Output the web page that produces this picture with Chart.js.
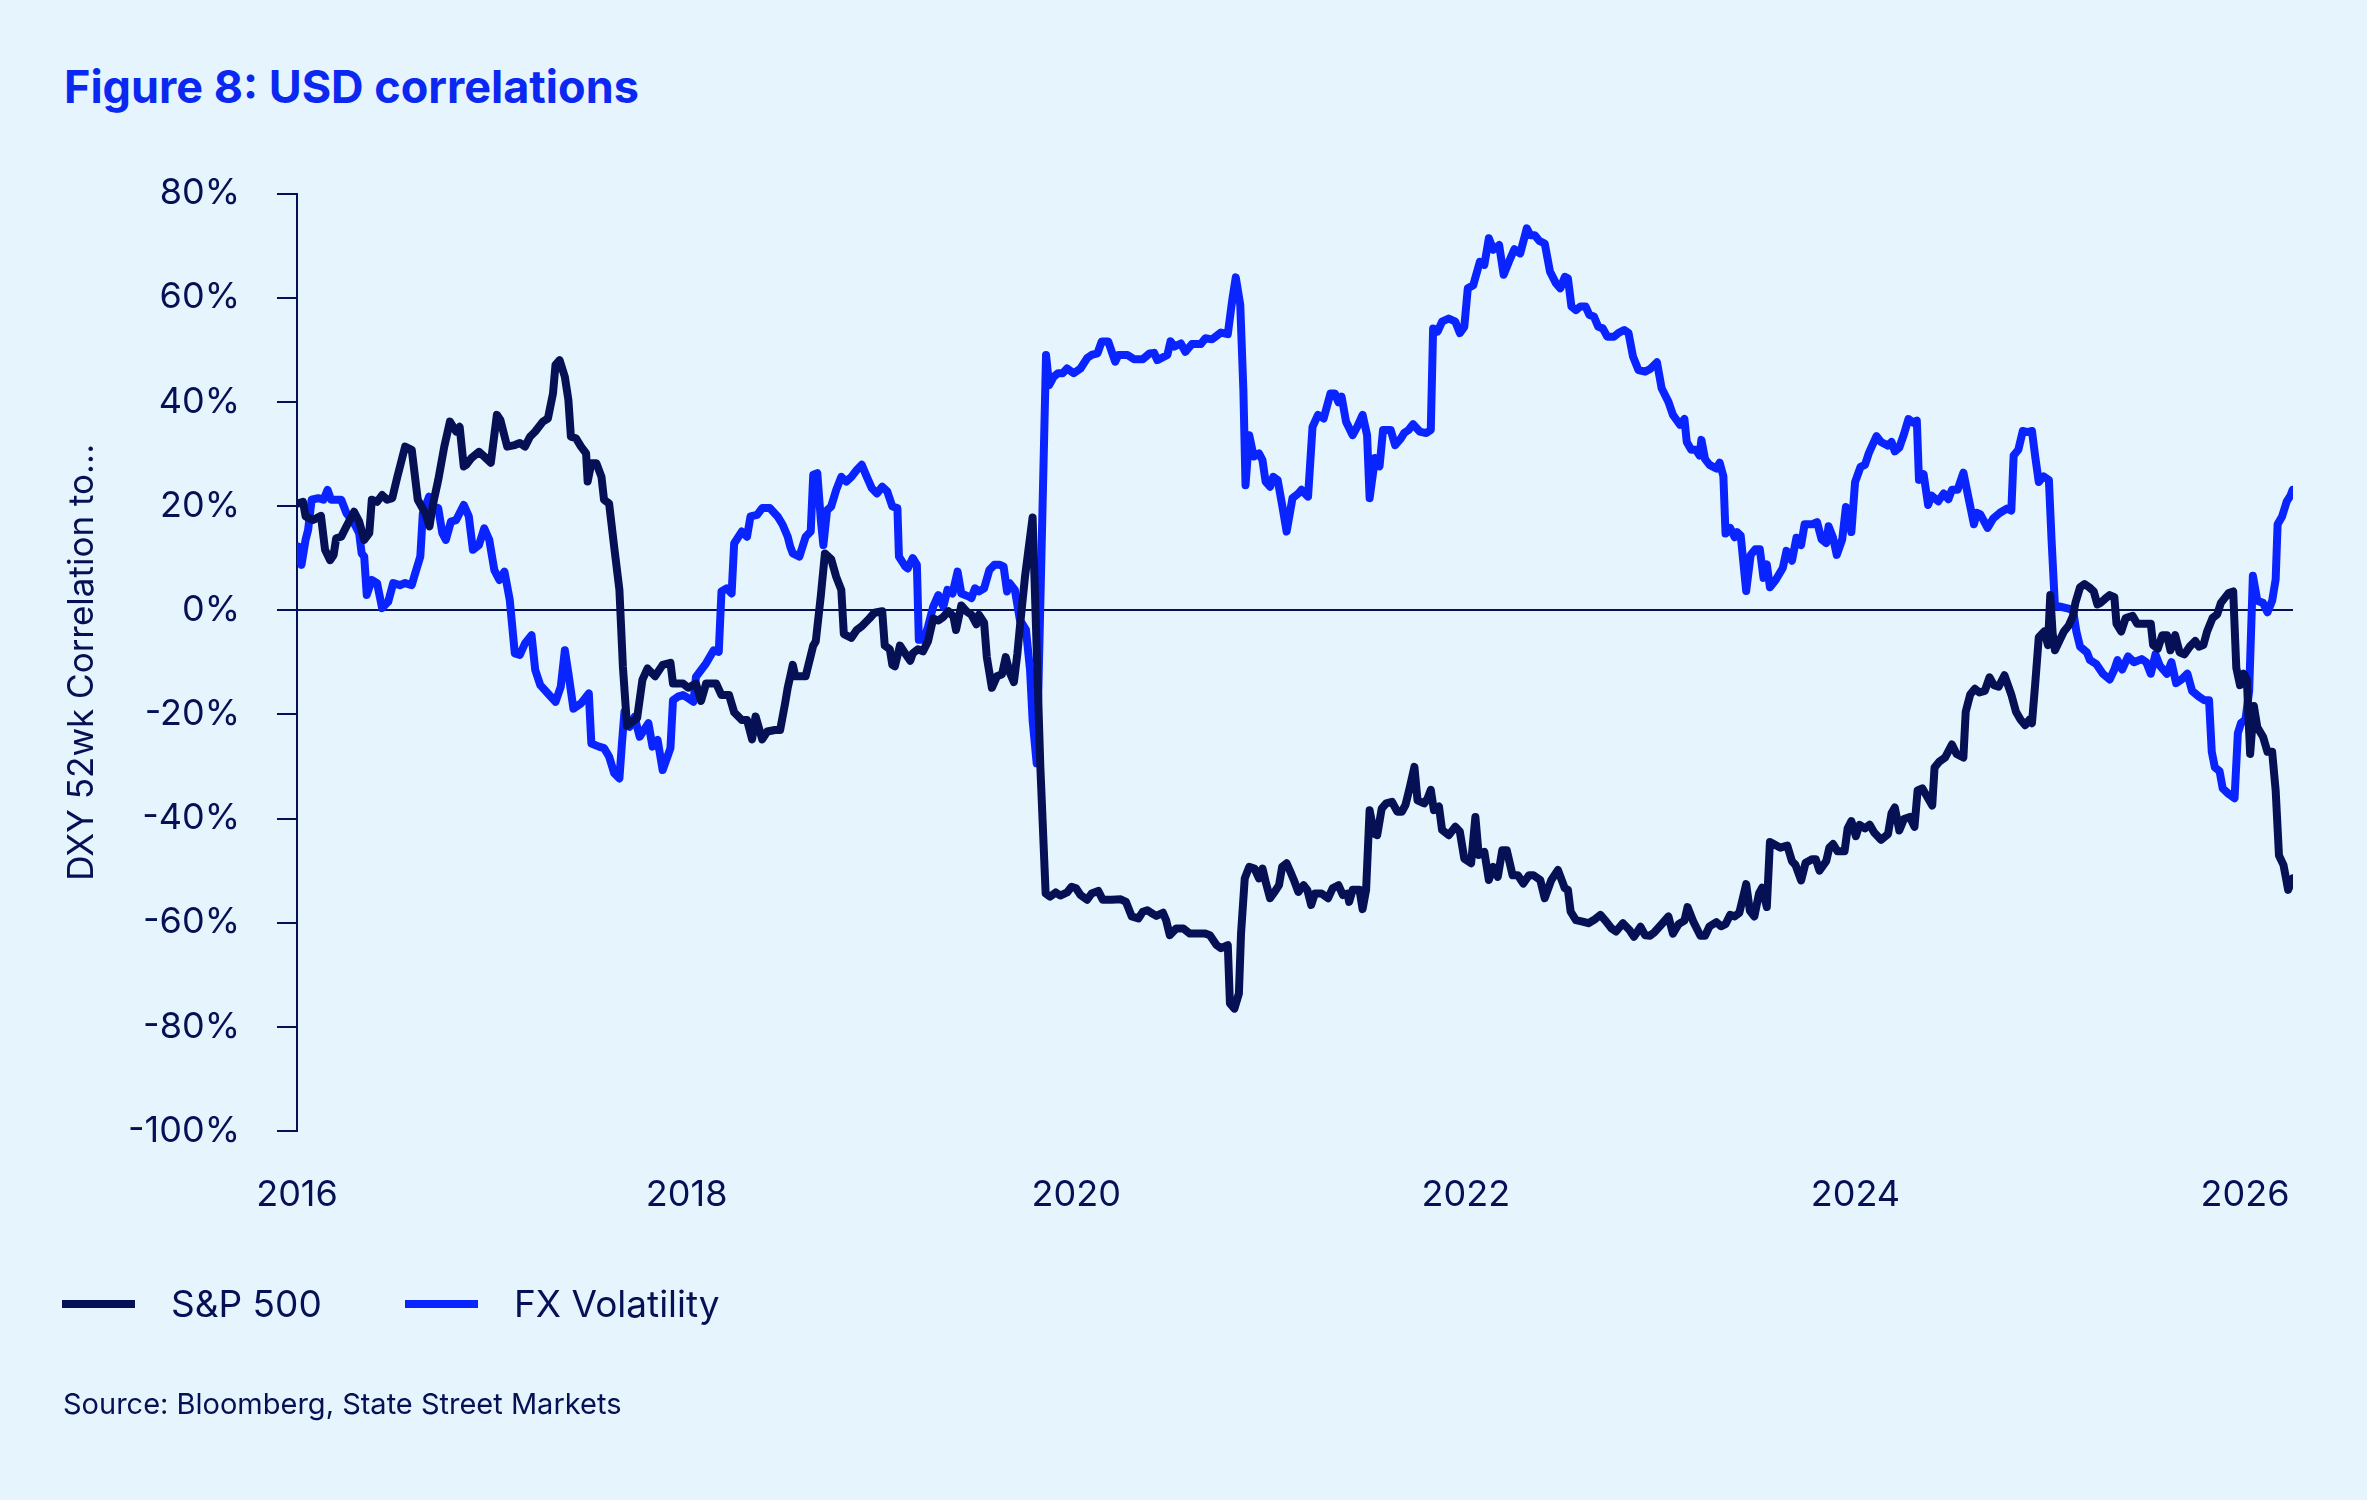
<!DOCTYPE html>
<html>
<head>
<meta charset="utf-8">
<script src="https://cdn.jsdelivr.net/npm/chart.js@4.4.1/dist/chart.umd.min.js"></script>
<style>
  html, body { margin: 0; padding: 0; background: #E6F4FE; }
  body { width: 2367px; height: 1500px; position: relative; overflow: hidden; font-family: Inter, 'Noto Sans', sans-serif; color: #061155; }
  #chart { position: absolute; left: 0; top: 0; }
  .title { position: absolute; left: 64px; top: 64px; font-size: 45px; line-height: 45px; font-weight: 700; color: #0A28F0; white-space: nowrap; }
  .leg-line { position: absolute; top: 1300px; width: 73px; height: 8px; }
  .leg-text { position: absolute; top: 1285px; font-size: 37px; line-height: 37px; white-space: nowrap; }
  .source { position: absolute; left: 63px; top: 1389px; font-size: 29px; line-height: 29px; white-space: nowrap; }
</style>
</head>
<body>
<div class="title">Figure 8: USD correlations</div>
<canvas id="chart" width="2367" height="1500"></canvas>
<div class="leg-line" style="left:62px;background:#061155"></div>
<div class="leg-text" style="left:171px">S&amp;P 500</div>
<div class="leg-line" style="left:405px;background:#0A24FF"></div>
<div class="leg-text" style="left:514px">FX Volatility</div>
<div class="source">Source: Bloomberg, State Street Markets</div>
<script>
const NAVY = '#061155';
const BLUE = '#0A24FF';

const xTicks = [2016, 2018, 2020, 2022, 2024, 2026];
const yTicks = [-100, -80, -60, -40, -20, 0, 20, 40, 60, 80];

// S&P 500 correlation (decimal year, %)
const spDates = [
  2016.005, 2016.031, 2016.044, 2016.083, 2016.123, 2016.144, 2016.170, 2016.188, 2016.201, 2016.227,
  2016.254, 2016.293, 2016.319, 2016.345, 2016.371, 2016.384, 2016.411, 2016.437, 2016.463, 2016.489,
  2016.515, 2016.555, 2016.589, 2016.620, 2016.659, 2016.680, 2016.699, 2016.725, 2016.756, 2016.785,
  2016.817, 2016.835, 2016.856, 2016.869, 2016.895, 2016.934, 2016.961, 2016.995, 2017.026, 2017.044,
  2017.079, 2017.118, 2017.144, 2017.170, 2017.196, 2017.223, 2017.262, 2017.288, 2017.314, 2017.327,
  2017.348, 2017.375, 2017.393, 2017.406, 2017.432, 2017.458, 2017.484, 2017.492, 2017.511, 2017.537,
  2017.563, 2017.576, 2017.602, 2017.628, 2017.655, 2017.673, 2017.694, 2017.746, 2017.773, 2017.799,
  2017.838, 2017.877, 2017.917, 2017.930, 2017.982, 2018.008, 2018.048, 2018.074, 2018.100, 2018.152,
  2018.179, 2018.218, 2018.244, 2018.283, 2018.310, 2018.336, 2018.354, 2018.388, 2018.414, 2018.454,
  2018.480, 2018.506, 2018.519, 2018.545, 2018.558, 2018.611, 2018.650, 2018.663, 2018.689, 2018.710,
  2018.742, 2018.768, 2018.794, 2018.807, 2018.846, 2018.873, 2018.899, 2018.938, 2018.964, 2019.004,
  2019.017, 2019.043, 2019.056, 2019.069, 2019.095, 2019.122, 2019.148, 2019.161, 2019.187, 2019.213,
  2019.239, 2019.266, 2019.292, 2019.318, 2019.344, 2019.370, 2019.383, 2019.410, 2019.436, 2019.462,
  2019.488, 2019.501, 2019.527, 2019.541, 2019.567, 2019.593, 2019.619, 2019.638, 2019.658, 2019.680,
  2019.698, 2019.711, 2019.737, 2019.776, 2019.816, 2019.843, 2019.866, 2019.895, 2019.918, 2019.953,
  2019.976, 2019.999, 2020.022, 2020.056, 2020.079, 2020.113, 2020.136, 2020.182, 2020.228, 2020.255,
  2020.285, 2020.319, 2020.342, 2020.365, 2020.388, 2020.411, 2020.445, 2020.461, 2020.480, 2020.514,
  2020.549, 2020.583, 2020.617, 2020.663, 2020.686, 2020.720, 2020.743, 2020.778, 2020.789, 2020.812,
  2020.835, 2020.846, 2020.865, 2020.888, 2020.915, 2020.938, 2020.956, 2020.972, 2020.995, 2021.018,
  2021.041, 2021.057, 2021.080, 2021.099, 2021.117, 2021.140, 2021.167, 2021.186, 2021.206, 2021.225,
  2021.259, 2021.293, 2021.316, 2021.346, 2021.369, 2021.392, 2021.401, 2021.419, 2021.454, 2021.470,
  2021.488, 2021.506, 2021.529, 2021.545, 2021.568, 2021.591, 2021.621, 2021.648, 2021.671, 2021.690,
  2021.713, 2021.736, 2021.752, 2021.786, 2021.804, 2021.820, 2021.836, 2021.862, 2021.878, 2021.912,
  2021.946, 2021.969, 2021.992, 2022.027, 2022.049, 2022.066, 2022.095, 2022.118, 2022.141, 2022.164,
  2022.187, 2022.210, 2022.240, 2022.267, 2022.295, 2022.324, 2022.347, 2022.382, 2022.405, 2022.439,
  2022.473, 2022.508, 2022.524, 2022.538, 2022.565, 2022.599, 2022.629, 2022.657, 2022.691, 2022.714,
  2022.748, 2022.771, 2022.806, 2022.840, 2022.863, 2022.897, 2022.920, 2022.946, 2022.969, 2023.005,
  2023.040, 2023.063, 2023.092, 2023.122, 2023.138, 2023.169, 2023.204, 2023.228, 2023.251, 2023.286,
  2023.310, 2023.333, 2023.357, 2023.380, 2023.404, 2023.439, 2023.458, 2023.481, 2023.505, 2023.521,
  2023.545, 2023.561, 2023.580, 2023.615, 2023.650, 2023.674, 2023.692, 2023.721, 2023.744, 2023.779,
  2023.796, 2023.815, 2023.850, 2023.866, 2023.885, 2023.908, 2023.944, 2023.960, 2023.979, 2024.002,
  2024.021, 2024.049, 2024.073, 2024.096, 2024.131, 2024.167, 2024.185, 2024.202, 2024.225, 2024.249,
  2024.279, 2024.303, 2024.319, 2024.343, 2024.366, 2024.394, 2024.406, 2024.430, 2024.460, 2024.495,
  2024.519, 2024.554, 2024.566, 2024.589, 2024.613, 2024.636, 2024.664, 2024.688, 2024.711, 2024.735,
  2024.765, 2024.800, 2024.824, 2024.847, 2024.871, 2024.894, 2024.906, 2024.923, 2024.941, 2024.969,
  2024.988, 2025.000, 2025.012, 2025.024, 2025.047, 2025.070, 2025.094, 2025.117, 2025.129, 2025.153,
  2025.176, 2025.200, 2025.223, 2025.242, 2025.258, 2025.282, 2025.305, 2025.329, 2025.340, 2025.364,
  2025.387, 2025.423, 2025.446, 2025.481, 2025.516, 2025.528, 2025.552, 2025.575, 2025.599, 2025.617,
  2025.641, 2025.664, 2025.688, 2025.716, 2025.744, 2025.763, 2025.786, 2025.805, 2025.833, 2025.857,
  2025.876, 2025.899, 2025.916, 2025.939, 2025.955, 2025.974, 2025.993, 2026.009, 2026.026, 2026.045,
  2026.063, 2026.092, 2026.115, 2026.139, 2026.157, 2026.174, 2026.197, 2026.221, 2026.244
];
const spValues = [
  20.5, 20.8, 18.0, 17.3, 18.1, 11.6, 9.6, 10.6, 13.8, 14.1,
  16.1, 18.9, 17.0, 13.5, 14.8, 21.2, 20.8, 22.1, 21.2, 21.5,
  25.6, 31.4, 30.8, 21.2, 18.6, 16.1, 20.5, 25.0, 31.4, 36.2,
  34.3, 35.2, 27.6, 27.9, 29.2, 30.4, 29.5, 28.3, 37.5, 36.5,
  31.4, 31.7, 32.1, 31.4, 33.3, 34.3, 36.2, 36.8, 41.6, 47.1,
  48.0, 44.8, 40.4, 33.3, 33.0, 31.4, 30.1, 24.7, 28.2, 28.2,
  25.6, 21.2, 20.5, 12.2, 3.9, -10.9, -22.2, -20.7, -13.4, -11.2,
  -12.7, -10.5, -10.1, -14.1, -14.1, -14.9, -14.1, -17.4, -14.1, -14.1,
  -16.3, -16.3, -19.6, -21.1, -21.1, -24.8, -20.4, -24.8, -23.3, -23.0,
  -23.0, -17.8, -14.9, -10.5, -12.7, -12.7, -6.8, -6.0, 2.8, 10.9,
  9.8, 6.4, 3.9, -4.6, -5.3, -3.8, -3.1, -1.6, -0.5, -0.2,
  -6.8, -7.5, -10.5, -10.8, -6.8, -8.3, -9.7, -8.3, -7.5, -7.9,
  -6.0, -1.6, -2.0, -1.3, -0.2, -1.3, -3.8, 0.9, -0.2, -0.9,
  -2.7, -0.9, -2.4, -9.0, -14.9, -12.7, -12.3, -9.0, -11.9, -13.8,
  -8.3, -3.1, 6.4, 17.8, -30.3, -54.4, -55.0, -54.2, -54.8, -54.2,
  -53.1, -53.4, -54.7, -55.6, -54.4, -53.9, -55.6, -55.6, -55.5, -56.0,
  -58.8, -59.2, -57.9, -57.6, -58.2, -58.7, -58.1, -59.5, -62.4, -61.1,
  -61.1, -62.1, -62.1, -62.1, -62.4, -64.3, -64.9, -64.3, -75.5, -76.5,
  -73.6, -62.1, -51.5, -49.3, -49.6, -51.5, -49.6, -52.1, -55.3, -54.1,
  -52.8, -49.3, -48.6, -50.2, -51.8, -54.1, -52.8, -53.7, -56.6, -54.4,
  -54.4, -55.3, -53.4, -52.8, -54.7, -54.4, -56.0, -53.7, -53.7, -57.4,
  -53.7, -38.4, -42.9, -43.2, -38.1, -37.1, -36.8, -38.7, -38.7, -37.4,
  -33.9, -30.1, -36.5, -37.1, -36.1, -34.5, -38.4, -37.7, -42.2, -43.2,
  -41.6, -42.5, -47.7, -48.6, -39.7, -47.0, -46.4, -51.8, -49.3, -51.2,
  -46.1, -46.1, -50.9, -50.9, -52.5, -50.9, -50.9, -51.8, -55.3, -51.8,
  -49.9, -53.4, -53.7, -57.9, -59.5, -59.8, -60.1, -59.5, -58.5, -59.5,
  -61.1, -61.7, -60.1, -61.4, -62.7, -60.8, -62.4, -62.5, -61.8, -60.3,
  -58.8, -62.1, -60.3, -59.6, -57.0, -59.9, -62.5, -62.5, -60.7, -59.9,
  -60.7, -60.3, -58.5, -58.8, -58.1, -52.6, -57.7, -58.8, -54.4, -53.3,
  -57.0, -44.5, -44.9, -45.6, -45.2, -48.2, -48.9, -51.9, -48.5, -47.8,
  -47.8, -50.0, -48.2, -45.6, -44.9, -46.3, -46.3, -41.9, -40.5, -43.4,
  -41.2, -41.9, -41.2, -42.7, -44.1, -43.0, -39.0, -37.9, -42.3, -40.1,
  -39.7, -41.6, -34.6, -34.2, -35.7, -37.5, -30.2, -29.1, -28.3, -25.8,
  -27.6, -28.3, -19.5, -16.2, -15.1, -15.8, -15.5, -12.9, -14.4, -14.7,
  -12.5, -16.2, -19.5, -21.0, -22.1, -21.0, -21.7, -14.0, -5.2, -4.1,
  -6.7, 2.9, -4.4, -7.7, -5.9, -4.1, -3.0, -1.1, 1.4, 4.4,
  5.0, 4.4, 3.6, 1.1, 1.4, 2.2, 2.9, 2.5, -2.6, -4.1,
  -1.5, -1.1, -2.6, -2.6, -2.6, -6.7, -7.4, -4.8, -4.8, -7.7,
  -4.8, -8.1, -8.5, -7.0, -5.9, -7.0, -6.7, -4.1, -1.5, -0.8,
  1.4, 2.5, 3.3, 3.6, -11.1, -14.4, -12.2, -13.3, -27.6, -18.4,
  -22.5, -24.3, -27.2, -27.2, -34.6, -47.1, -48.9, -53.7, -51.5
];

// FX volatility correlation (decimal year, %)
const fxDates = [
  2016.005, 2016.023, 2016.044, 2016.057, 2016.075, 2016.109, 2016.136, 2016.157, 2016.175, 2016.227,
  2016.254, 2016.293, 2016.319, 2016.332, 2016.345, 2016.358, 2016.384, 2016.411, 2016.437, 2016.468,
  2016.494, 2016.528, 2016.555, 2016.589, 2016.607, 2016.633, 2016.646, 2016.678, 2016.699, 2016.725,
  2016.746, 2016.764, 2016.790, 2016.817, 2016.856, 2016.882, 2016.903, 2016.934, 2016.961, 2016.987,
  2017.013, 2017.039, 2017.065, 2017.092, 2017.118, 2017.144, 2017.170, 2017.204, 2017.223, 2017.249,
  2017.288, 2017.327, 2017.354, 2017.375, 2017.393, 2017.419, 2017.458, 2017.498, 2017.511, 2017.550,
  2017.576, 2017.602, 2017.628, 2017.655, 2017.668, 2017.681, 2017.707, 2017.733, 2017.759, 2017.804,
  2017.825, 2017.851, 2017.877, 2017.917, 2017.930, 2017.956, 2017.982, 2018.008, 2018.035, 2018.048,
  2018.074, 2018.100, 2018.139, 2018.165, 2018.179, 2018.205, 2018.231, 2018.244, 2018.283, 2018.310,
  2018.328, 2018.362, 2018.388, 2018.427, 2018.467, 2018.493, 2018.519, 2018.532, 2018.545, 2018.579,
  2018.611, 2018.637, 2018.650, 2018.671, 2018.689, 2018.702, 2018.721, 2018.742, 2018.768, 2018.794,
  2018.820, 2018.846, 2018.873, 2018.899, 2018.925, 2018.951, 2018.977, 2019.004, 2019.030, 2019.056,
  2019.082, 2019.090, 2019.122, 2019.135, 2019.161, 2019.182, 2019.192, 2019.218, 2019.239, 2019.266,
  2019.292, 2019.318, 2019.339, 2019.365, 2019.391, 2019.410, 2019.449, 2019.462, 2019.480, 2019.501,
  2019.527, 2019.554, 2019.580, 2019.606, 2019.627, 2019.645, 2019.658, 2019.685, 2019.711, 2019.742,
  2019.763, 2019.776, 2019.797, 2019.845, 2019.861, 2019.884, 2019.907, 2019.930, 2019.953, 2019.987,
  2020.022, 2020.056, 2020.079, 2020.109, 2020.131, 2020.164, 2020.200, 2020.216, 2020.262, 2020.296,
  2020.342, 2020.377, 2020.400, 2020.416, 2020.468, 2020.484, 2020.503, 2020.537, 2020.560, 2020.594,
  2020.640, 2020.663, 2020.697, 2020.743, 2020.778, 2020.801, 2020.819, 2020.842, 2020.858, 2020.869,
  2020.888, 2020.911, 2020.938, 2020.956, 2020.972, 2020.995, 2021.011, 2021.034, 2021.057, 2021.080,
  2021.110, 2021.140, 2021.156, 2021.190, 2021.213, 2021.241, 2021.270, 2021.305, 2021.328, 2021.346,
  2021.362, 2021.385, 2021.419, 2021.442, 2021.470, 2021.493, 2021.506, 2021.534, 2021.557, 2021.575,
  2021.614, 2021.637, 2021.667, 2021.683, 2021.706, 2021.729, 2021.763, 2021.797, 2021.820, 2021.832,
  2021.855, 2021.878, 2021.912, 2021.946, 2021.969, 2021.992, 2022.010, 2022.038, 2022.072, 2022.095,
  2022.118, 2022.141, 2022.171, 2022.194, 2022.221, 2022.249, 2022.279, 2022.313, 2022.331, 2022.354,
  2022.377, 2022.405, 2022.432, 2022.462, 2022.485, 2022.508, 2022.524, 2022.542, 2022.565, 2022.588,
  2022.615, 2022.634, 2022.657, 2022.680, 2022.703, 2022.726, 2022.760, 2022.783, 2022.813, 2022.835,
  2022.858, 2022.886, 2022.920, 2022.946, 2022.981, 2023.005, 2023.040, 2023.063, 2023.099, 2023.122,
  2023.134, 2023.157, 2023.181, 2023.200, 2023.209, 2023.228, 2023.251, 2023.286, 2023.303, 2023.322,
  2023.333, 2023.357, 2023.380, 2023.392, 2023.411, 2023.439, 2023.462, 2023.486, 2023.509, 2023.528,
  2023.545, 2023.561, 2023.592, 2023.627, 2023.646, 2023.674, 2023.697, 2023.721, 2023.739, 2023.779,
  2023.803, 2023.826, 2023.850, 2023.862, 2023.885, 2023.904, 2023.932, 2023.951, 2023.979, 2023.998,
  2024.026, 2024.049, 2024.068, 2024.108, 2024.131, 2024.167, 2024.185, 2024.202, 2024.225, 2024.249,
  2024.272, 2024.296, 2024.315, 2024.326, 2024.350, 2024.373, 2024.390, 2024.425, 2024.453, 2024.477,
  2024.495, 2024.524, 2024.554, 2024.578, 2024.608, 2024.624, 2024.641, 2024.678, 2024.707, 2024.742,
  2024.777, 2024.800, 2024.812, 2024.836, 2024.859, 2024.883, 2024.906, 2024.923, 2024.941, 2024.965,
  2024.993, 2025.007, 2025.024, 2025.047, 2025.094, 2025.117, 2025.134, 2025.153, 2025.188, 2025.204,
  2025.235, 2025.270, 2025.305, 2025.329, 2025.345, 2025.369, 2025.399, 2025.430, 2025.469, 2025.493,
  2025.516, 2025.540, 2025.563, 2025.599, 2025.622, 2025.646, 2025.674, 2025.704, 2025.728, 2025.763,
  2025.791, 2025.815, 2025.829, 2025.845, 2025.869, 2025.885, 2025.916, 2025.946, 2025.963, 2025.979,
  2026.002, 2026.021, 2026.040, 2026.063, 2026.092, 2026.115, 2026.139, 2026.157, 2026.167, 2026.190,
  2026.214, 2026.233, 2026.244
];
const fxValues = [
  12.2, 8.7, 13.5, 15.4, 21.2, 21.5, 21.2, 23.1, 21.2, 21.2,
  18.6, 16.7, 14.8, 10.9, 10.3, 2.9, 5.8, 5.2, 0.4, 1.6,
  5.2, 4.8, 5.2, 4.8, 7.1, 10.3, 18.6, 21.8, 19.9, 19.6,
  14.8, 13.5, 17.0, 17.3, 20.2, 18.0, 11.6, 12.5, 15.7, 13.5,
  7.7, 5.8, 7.4, 2.0, -8.3, -8.6, -6.4, -4.8, -11.5, -14.4,
  -16.0, -17.6, -14.7, -7.7, -12.1, -18.9, -17.9, -16.0, -25.6, -26.2,
  -26.5, -28.1, -31.3, -32.3, -25.6, -19.5, -22.4, -20.5, -24.3, -21.7,
  -26.2, -24.9, -30.7, -26.5, -17.3, -16.6, -16.3, -16.9, -17.6, -12.8,
  -11.5, -10.2, -7.7, -8.0, 3.6, 4.2, 3.2, 12.8, 15.1, 14.1,
  18.0, 18.3, 19.6, 19.6, 18.0, 16.4, 14.1, 12.2, 10.9, 10.3,
  14.1, 15.1, 26.0, 26.3, 17.3, 12.5, 19.2, 19.9, 23.1, 25.6,
  24.7, 25.6, 26.9, 27.9, 25.6, 23.4, 22.4, 23.7, 22.8, 19.9,
  19.6, 10.3, 8.4, 8.0, 10.0, 8.7, -5.7, -5.7, -3.2, 0.7,
  2.9, 0.7, 3.9, 3.2, 7.4, 3.2, 2.6, 2.3, 4.2, 3.6,
  4.2, 7.7, 8.7, 8.7, 8.4, 3.6, 5.2, 3.9, -1.9, -3.8,
  -11.5, -21.1, -29.4, 49.0, 43.2, 44.8, 45.5, 45.5, 46.4, 45.5,
  46.4, 48.4, 49.0, 49.3, 51.6, 51.6, 47.7, 49.0, 49.0, 48.2,
  48.2, 49.3, 49.4, 48.0, 49.0, 51.6, 50.6, 51.2, 49.6, 51.1,
  51.1, 52.2, 52.0, 53.3, 53.0, 59.6, 63.9, 58.6, 42.3, 24.0,
  33.6, 29.5, 30.1, 28.8, 24.7, 23.7, 25.6, 25.0, 20.2, 15.1,
  21.5, 22.4, 23.1, 21.8, 35.2, 37.5, 36.8, 41.6, 41.6, 39.9,
  41.0, 36.2, 33.6, 35.2, 37.5, 33.6, 21.5, 29.2, 27.6, 34.6,
  34.6, 31.7, 33.0, 34.0, 34.6, 35.7, 34.3, 34.0, 34.6, 54.1,
  53.5, 55.4, 56.0, 55.4, 53.2, 54.4, 61.8, 62.4, 66.9, 66.3,
  71.4, 69.2, 70.1, 64.4, 66.9, 69.3, 68.5, 73.3, 72.0, 72.0,
  70.9, 70.4, 65.0, 62.8, 61.8, 64.0, 63.7, 58.3, 57.6, 58.3,
  58.3, 56.7, 56.4, 54.4, 54.1, 52.5, 52.5, 53.2, 53.8, 53.2,
  48.7, 46.1, 45.8, 46.3, 47.6, 42.6, 40.0, 37.5, 35.6, 36.7,
  32.3, 30.8, 30.8, 29.7, 32.7, 29.0, 27.9, 27.2, 28.3, 25.7,
  14.7, 15.8, 14.0, 15.0, 14.3, 3.7, 10.6, 11.7, 11.7, 6.2,
  8.8, 4.4, 5.9, 8.1, 11.4, 9.5, 13.9, 12.5, 16.5, 16.5,
  16.9, 13.6, 12.9, 16.1, 13.9, 10.6, 13.6, 19.8, 15.0, 24.6,
  27.5, 27.9, 30.1, 33.4, 32.3, 31.6, 32.3, 30.5, 31.2, 33.8,
  36.7, 36.0, 36.4, 25.0, 26.1, 20.2, 22.0, 20.9, 22.4, 21.3,
  23.1, 23.1, 26.4, 22.0, 16.5, 18.7, 18.4, 15.8, 17.6, 18.7,
  19.5, 19.1, 29.7, 30.8, 34.4, 34.2, 34.4, 29.4, 24.6, 25.7,
  25.0, 13.2, 0.7, 0.7, 0.3, 0.0, -4.1, -7.0, -8.1, -9.6,
  -10.3, -12.2, -13.3, -11.4, -9.6, -11.4, -8.9, -10.0, -9.4, -10.0,
  -12.2, -8.5, -10.7, -12.2, -10.0, -14.0, -13.3, -12.2, -15.5, -16.6,
  -17.3, -17.3, -27.2, -30.2, -30.9, -34.2, -35.3, -36.1, -23.6, -21.7,
  -21.0, -15.5, 6.6, 1.8, 1.4, -0.4, 1.8, 5.9, 16.5, 18.0,
  20.9, 22.0, 23.1
];

const toPoints = (xs, ys) => xs.map((x, i) => ({ x: x, y: ys[i] }));

const fontFamily = 'Inter, "Noto Sans", sans-serif';

new Chart(document.getElementById('chart').getContext('2d'), {
  type: 'line',
  data: {
    datasets: [
      {
        label: 'S&P 500',
        data: toPoints(spDates, spValues),
        borderColor: NAVY,
        borderWidth: 8,
        pointRadius: 0,
        tension: 0,
        borderJoinStyle: 'round',
        borderCapStyle: 'round'
      },
      {
        label: 'FX Volatility',
        data: toPoints(fxDates, fxValues),
        borderColor: BLUE,
        borderWidth: 8,
        pointRadius: 0,
        tension: 0,
        borderJoinStyle: 'round',
        borderCapStyle: 'round'
      }
    ]
  },
  options: {
    responsive: false,
    animation: false,
    layout: { padding: { left: 0, right: 74, top: 193.5, bottom: 279 } },
    plugins: {
      legend: { display: false },
      tooltip: { enabled: false }
    },
    scales: {
      x: {
        type: 'linear',
        min: 2016,
        max: 2026.246,
        afterBuildTicks: (scale) => { scale.ticks = xTicks.map(v => ({ value: v })); },
        afterFit: (scale) => { scale.height = 90; },
        ticks: {
          callback: (v) => String(v),
          color: NAVY,
          padding: 43,
          maxRotation: 0,
          font: { family: fontFamily, size: 36 }
        },
        grid: { display: false, drawTicks: false },
        border: { display: false }
      },
      y: {
        min: -100,
        max: 80,
        afterBuildTicks: (scale) => { scale.ticks = yTicks.map(v => ({ value: v })); },
        afterFit: (scale) => { scale.width = 297; },
        ticks: {
          callback: (v) => v + '%',
          color: NAVY,
          padding: 37,
          font: { family: fontFamily, size: 36 }
        },
        grid: {
          color: (ctx) => (ctx.tick && ctx.tick.value === 0) ? NAVY : 'rgba(0,0,0,0)',
          tickColor: NAVY,
          tickLength: 20,
          lineWidth: 2
        },
        border: { display: true, color: NAVY, width: 2 },
        title: {
          display: true,
          text: 'DXY 52wk Correlation to...',
          color: NAVY,
          padding: { top: 61, bottom: 0 },
          font: { family: fontFamily, size: 35 }
        }
      }
    }
  }
});
</script>
</body>
</html>
